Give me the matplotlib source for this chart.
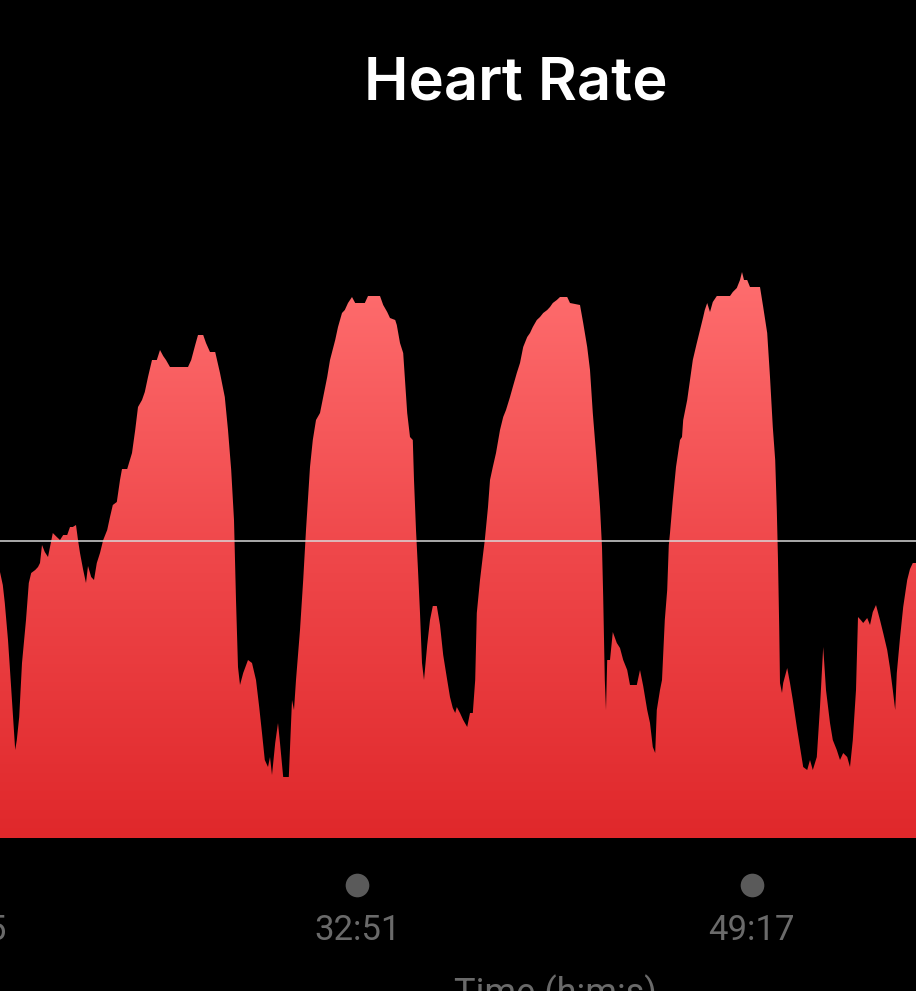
import numpy as np
import matplotlib.pyplot as plt
from matplotlib.colors import LinearSegmentedColormap

# heart rate trace (elapsed seconds, bpm)
t_sec = [1078, 1085, 1090, 1098, 1103, 1110, 1116, 1120, 1126, 1133, 1143, 1150, 1156, 1166, 1173, 1178,
         1183, 1190, 1198, 1203, 1210, 1220, 1228, 1236, 1246, 1253, 1260, 1268, 1273, 1278, 1286, 1293,
         1298, 1306, 1313, 1320, 1328, 1336, 1346, 1353,
         1360, 1370, 1378, 1383, 1396, 1408, 1416, 1423, 1433, 1440, 1448, 1458, 1470, 1478, 1486, 1493,
         1503, 1528, 1548, 1556, 1566, 1573, 1586, 1593, 1603, 1616, 1628, 1640, 1648, 1656, 1663, 1668, 1673,
         1678, 1686, 1698, 1708, 1718, 1726, 1733, 1740, 1748, 1753, 1758, 1766, 1773, 1778, 1786, 1800,
         1808, 1813, 1818, 1828, 1836, 1843,
         1853, 1860, 1868, 1878, 1886, 1896, 1903, 1916, 1923, 1933, 1940, 1948, 1958, 1966, 1990, 1998,
         2028, 2036, 2046, 2053, 2066, 2070, 2078, 2086, 2090, 2096, 2103, 2110, 2113, 2118, 2123, 2128,
         2133, 2138,
         2146, 2153, 2160, 2170, 2178, 2186, 2196, 2203, 2210, 2216, 2220, 2228, 2236, 2246, 2253, 2260,
         2266, 2270, 2278, 2286, 2290, 2298, 2303, 2310, 2318, 2328, 2336, 2343, 2353, 2360, 2370, 2378,
         2386, 2396, 2403, 2410, 2420, 2428, 2436, 2446, 2453, 2460, 2470, 2478, 2496, 2503, 2528, 2536,
         2546, 2553, 2560, 2570, 2578, 2583, 2586, 2590, 2593,
         2596, 2603, 2610, 2620, 2628, 2636, 2646, 2653, 2670, 2678, 2686, 2696, 2703, 2710, 2716, 2720,
         2728, 2733, 2740, 2746, 2750,
         2753, 2760, 2768, 2778, 2783, 2786, 2796, 2803, 2810, 2820, 2828, 2836, 2840, 2846, 2853, 2860,
         2870, 2903, 2910, 2920, 2928, 2933, 2938, 2946, 2953, 2978, 2986, 2996, 3003, 3010, 3016, 3020,
         3023, 3026, 3028, 3033,
         3036, 3046, 3053, 3060, 3070, 3078, 3086, 3096, 3103, 3110, 3120, 3128, 3136, 3143, 3153, 3160,
         3170, 3178, 3186, 3196, 3203, 3210, 3218, 3223, 3230, 3236, 3246, 3253, 3260, 3268, 3278, 3286,
         3296, 3303, 3310, 3316, 3320, 3328, 3336, 3346, 3353, 3360, 3368]
bpm = [113.2, 110.6, 107.0, 99.6, 93.6, 85.0, 77.6, 79.6, 84.2, 95.0, 103.6, 111.0, 113.0, 113.6, 114.2, 115.0,
       118.6, 117.2, 116.2, 118.2, 121.0, 120.2, 119.6, 120.6, 120.6, 122.2, 122.2, 122.6, 119.6, 117.0, 113.6, 111.0,
       114.4, 112.2, 111.6, 115.0, 117.0, 119.6, 121.6, 124.2,
       126.6, 127.2, 131.6, 133.8, 133.8, 137.0, 141.6, 146.2, 147.6, 149.2, 152.2, 155.6, 155.6, 157.6, 156.4, 155.6,
       154.2, 154.2, 154.2, 155.6, 158.6, 160.6, 160.6, 159.0, 157.2, 157.2, 153.0, 148.2, 141.6, 133.6, 123.6, 107.6, 94.2,
       90.6, 93.0, 95.6, 95.0, 91.6, 86.2, 81.0, 75.6, 74.2, 76.2, 72.6, 79.0, 83.0, 79.0, 72.2, 72.2,
       87.6, 85.6, 91.6, 101.6, 111.6, 121.6,
       134.2, 139.6, 143.6, 145.0, 148.2, 152.2, 155.6, 159.6, 162.2, 165.0, 165.6, 167.0, 168.2, 167.0, 167.0, 168.4,
       168.4, 166.6, 165.2, 164.0, 163.6, 162.6, 159.0, 157.0, 152.2, 145.0, 140.2, 139.6, 131.6, 121.6, 113.6, 105.0,
       95.0, 91.6,
       98.6, 103.6, 106.4, 106.4, 102.6, 96.6, 91.6, 88.2, 86.0, 85.0, 86.2, 85.0, 83.6, 82.2, 85.0, 85.0,
       91.6, 105.0, 111.6, 117.0, 119.6, 126.2, 131.6, 134.2, 137.0, 141.6, 144.2, 145.6, 148.2, 150.2, 153.0, 155.0,
       158.2, 160.2, 161.0, 162.2, 163.6, 164.2, 165.0, 165.6, 166.2, 167.0, 167.6, 168.2, 168.2, 167.0, 166.6, 163.0,
       158.2, 153.6, 145.0, 135.0, 126.2, 118.2, 108.2, 91.6, 85.6,
       95.6, 95.6, 101.2, 99.0, 98.0, 95.6, 93.6, 90.6, 90.6, 93.6, 90.4, 85.6, 83.0, 78.2, 77.0, 85.6,
       89.6, 91.6, 103.6, 109.6, 118.6,
       121.0, 127.6, 134.2, 139.6, 140.2, 143.6, 147.6, 151.6, 155.6, 159.0, 161.6, 164.2, 165.6, 167.0, 165.2, 167.2,
       168.4, 168.4, 169.2, 170.0, 171.6, 173.2, 171.6, 171.6, 170.2, 170.2, 166.2, 161.0, 152.2, 142.2, 135.6, 125.6,
       115.6, 102.2, 91.0, 89.0,
       91.0, 94.0, 91.0, 87.6, 82.2, 78.2, 74.2, 73.6, 75.6, 73.6, 76.2, 86.2, 98.2, 89.6, 83.0, 79.6,
       77.6, 75.6, 77.0, 76.2, 74.2, 79.6, 89.6, 104.2, 103.6, 103.0, 104.0, 102.6, 105.2, 106.6, 103.6, 101.0,
       97.6, 94.0, 89.6, 85.6, 93.0, 100.0, 106.2, 111.6, 113.8, 115.0, 115.0]
avg_bpm = 119.4

tick_sec = [985, 1971, 2957]
tick_labels = ["16:25", "32:51", "49:17"]

t = np.array(t_sec, dtype=float)
hr = np.array(bpm)
y0, y1 = 60, 200

fig = plt.figure(figsize=(9.16, 9.91), dpi=100, facecolor="black")
ax = fig.add_axes([0, 1 - 838 / 991, 1, 700 / 991])
ax.set_facecolor("black")
ax.axis("off")

# red area with vertical gradient
cmap = LinearSegmentedColormap.from_list("hr", ["#e0282b", "#ef474a", "#ff6e6f"])
poly = ax.fill_between(t, y0, hr, color="none", lw=0)
grad = np.linspace(0, 1, 256).reshape(-1, 1)
img = ax.imshow(grad, cmap=cmap, origin="lower", aspect="auto",
                extent=[t[0], t[-1], y0, hr.max()], interpolation="bilinear")
img.set_clip_path(poly.get_paths()[0], transform=ax.transData)
ax.set_xlim(t[0], t[-1]); ax.set_ylim(y0, y1)

ax.axhline(avg_bpm, color="#d8d8d8", lw=1.1, zorder=3)

fig.text(516 / 916, 1 - 84 / 991, "Heart Rate", color="white", fontsize=43,
         fontfamily=["Inter", "DejaVu Sans"], fontweight="semibold", ha="center", va="center")

tr = ax.get_xaxis_transform()
for s, lab in zip(tick_sec, tick_labels):
    ax.scatter([s], [-47 / 700], s=290, color="#5a5a5a", transform=tr, clip_on=False, lw=0)
    ax.text(s, -93 / 700, lab, transform=tr, color="#6a6a6a", fontsize=25,
            fontfamily="Roboto", ha="center", va="center", clip_on=False)

fig.text(555 / 916, 1 - 994 / 991, "Time (h:m:s)", color="#6a6a6a", fontsize=26,
         fontfamily="Roboto", ha="center", va="center")

fig.savefig("out.png", dpi=100, facecolor="black")
